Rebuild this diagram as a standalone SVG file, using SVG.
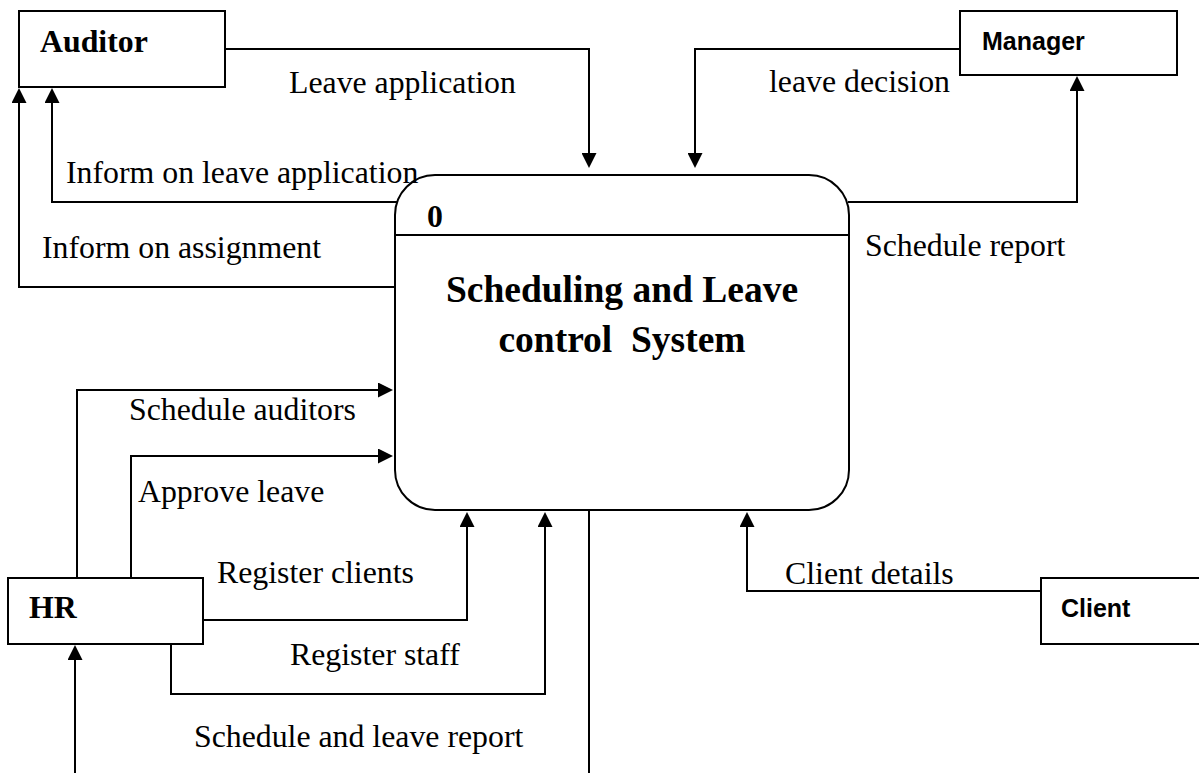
<svg xmlns="http://www.w3.org/2000/svg" width="1199" height="773" viewBox="0 0 1199 773">
<defs>
<style>
.box{fill:#fff;stroke:#000;stroke-width:2}
.ln{fill:none;stroke:#000;stroke-width:2}
.arr{marker-end:url(#ah)}
.lbl{font-family:"Liberation Serif","Times New Roman",serif;font-size:31.8px;fill:#000}
.bs{font-family:"Liberation Serif","Times New Roman",serif;font-size:31.8px;font-weight:bold;fill:#000}
.ttl{font-family:"Liberation Serif","Times New Roman",serif;font-size:37.5px;font-weight:bold;fill:#000;text-anchor:middle;white-space:pre}
.ss{font-family:"Liberation Sans",Arial,sans-serif;font-size:25px;font-weight:bold;fill:#000}
</style>
<marker id="ah" viewBox="0 0 10 10" refX="8" refY="5" markerWidth="15" markerHeight="15" markerUnits="userSpaceOnUse" orient="auto">
<path d="M0,0 L10,5 L0,10 z" fill="#000"/>
</marker>
</defs>
<rect width="1199" height="773" fill="#fff"/>
<g id="connectors">
<path class="ln arr" d="M225,49 H589 V165"/>
<path class="ln arr" d="M960,49 H695 V165"/>
<path class="ln arr" d="M848,202 H1077 V79"/>
<path class="ln arr" d="M397,202 H52 V91"/>
<path class="ln arr" d="M395,287 H19 V91"/>
<path class="ln arr" d="M77,578 V390 H390"/>
<path class="ln arr" d="M131,578 V456 H390"/>
<path class="ln arr" d="M203,620 H467 V515"/>
<path class="ln arr" d="M171,644 V694 H545 V515"/>
<path class="ln" d="M589,510 V773"/>
<path class="ln arr" d="M75,773 V648"/>
<path class="ln arr" d="M1041,591 H747 V515"/>
</g>
<g id="auditor">
<rect class="box" x="19" y="11" width="206" height="76"/>
<text class="bs" x="40" y="52">Auditor</text>
</g>
<g id="manager">
<rect class="box" x="960" y="11" width="217" height="64"/>
<text class="ss" x="982" y="50">Manager</text>
</g>
<g id="process">
<rect class="box" x="395" y="175" width="454" height="335" rx="40" ry="40"/>
<line class="ln" x1="395" y1="235" x2="849" y2="235"/>
<text class="bs" x="427" y="227">0</text>
<text class="ttl" x="622" y="302">Scheduling and Leave</text>
<text class="ttl" x="622" y="352" xml:space="preserve">control  System</text>
</g>
<g id="hr">
<rect class="box" x="8" y="578" width="195" height="66"/>
<text class="bs" x="29" y="618">HR</text>
</g>
<g id="client">
<rect class="box" x="1041" y="578" width="170" height="66"/>
<text class="ss" x="1061" y="617">Client</text>
</g>
<g id="labels">
<text class="lbl" x="289" y="93">Leave application</text>
<text class="lbl" x="769" y="92">leave decision</text>
<text class="lbl" x="66" y="183">Inform on leave application</text>
<text class="lbl" x="42" y="258">Inform on assignment</text>
<text class="lbl" x="865" y="256">Schedule report</text>
<text class="lbl" x="129" y="420">Schedule auditors</text>
<text class="lbl" x="138" y="502">Approve leave</text>
<text class="lbl" x="217" y="583">Register clients</text>
<text class="lbl" x="290" y="665">Register staff</text>
<text class="lbl" x="194" y="747">Schedule and leave report</text>
<text class="lbl" x="785" y="584">Client details</text>
</g>
</svg>
